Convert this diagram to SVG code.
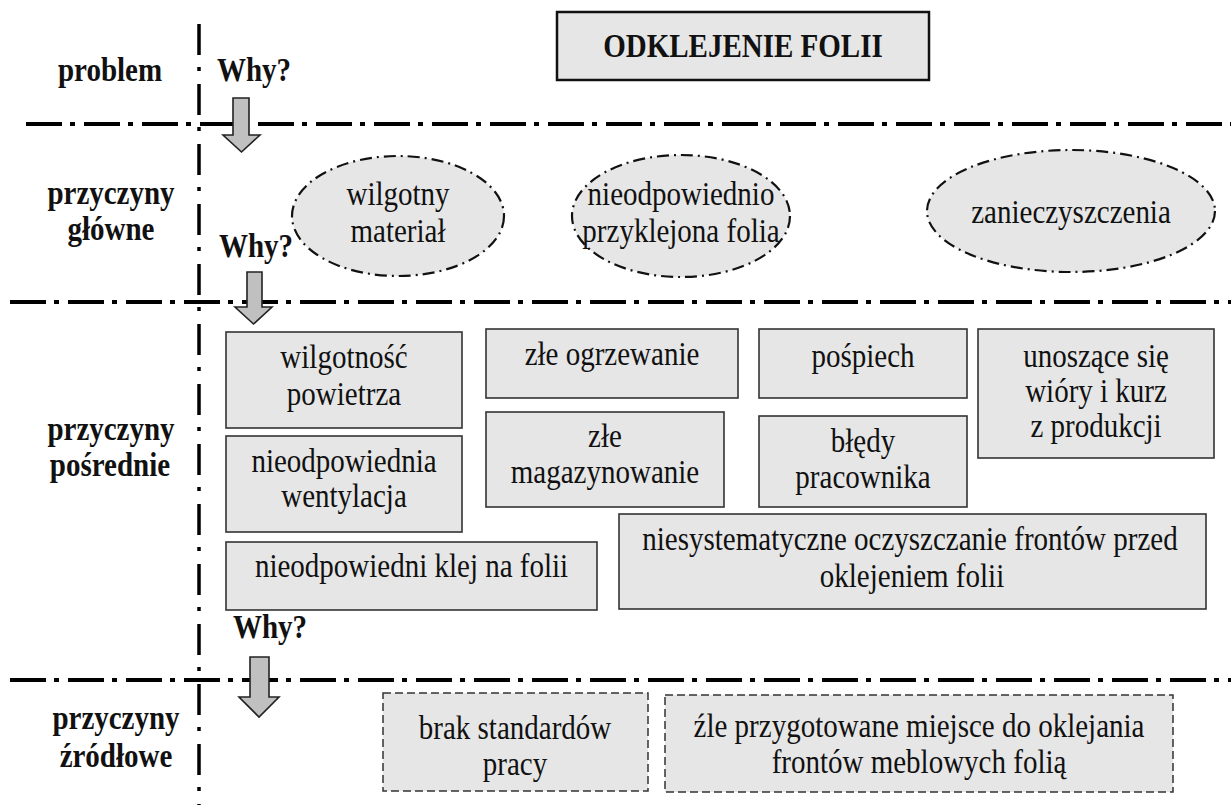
<svg xmlns="http://www.w3.org/2000/svg" width="1231" height="805" viewBox="0 0 1231 805" font-family="'Liberation Serif', 'Times New Roman', Times, serif">
<style>
  .bg{fill:#ffffff}
  .t{font-family:'Liberation Serif', 'Times New Roman', Times, serif;font-size:29px;fill:#111;text-anchor:middle}
  .b{font-weight:bold}
  .box{fill:#e6e6e6;stroke:#333;stroke-width:1.6}
  .title{fill:#e6e6e6;stroke:#111;stroke-width:2.5}
  .ell{fill:#e6e6e6;stroke:#111;stroke-width:2.2;stroke-dasharray:12 5 2 5}
  .dbox{fill:#e6e6e6;stroke:#333;stroke-width:1.5;stroke-dasharray:8 4}
  .hl{stroke:#000;stroke-width:4;stroke-dasharray:36 8 5 9;fill:none}
  .vl{stroke:#000;stroke-width:3.5;stroke-dasharray:31 12 4 13;fill:none}
  .arr{fill:#c0c0c0;stroke:#222;stroke-width:1.6;stroke-linejoin:miter}
  .why{font-family:'Liberation Serif', 'Times New Roman', Times, serif;font-size:29px;font-weight:bold;fill:#111}
</style>
<rect class="bg" x="0" y="0" width="1231" height="805"/>

<g id="grid">
  <line class="vl" x1="199" y1="24" x2="199" y2="805"/>
  <line class="hl" x1="26" y1="124" x2="1231" y2="124"/>
  <line class="hl" x1="10" y1="302" x2="1231" y2="302"/>
  <line class="hl" x1="10" y1="680" x2="1231" y2="680"/>
</g>

<g id="levels">
  <text class="t b" transform="translate(110 81) scale(1 1.13)">problem</text>
  <text class="t b" transform="translate(111 204) scale(1 1.13)">przyczyny</text>
  <text class="t b" transform="translate(111 240) scale(1 1.13)">główne</text>
  <text class="t b" transform="translate(111 440) scale(1 1.13)">przyczyny</text>
  <text class="t b" transform="translate(110 476) scale(1 1.13)">pośrednie</text>
  <text class="t b" transform="translate(116 729) scale(1 1.13)">przyczyny</text>
  <text class="t b" transform="translate(116 767) scale(1 1.13)">źródłowe</text>
</g>

<g id="title">
  <rect class="title" x="557" y="12" width="372" height="68"/>
  <text class="t b" transform="translate(743 57) scale(1 1.13)">ODKLEJENIE FOLII</text>
</g>

<g id="main1">
  <ellipse class="ell" cx="398" cy="216" rx="106" ry="60"/>
  <text class="t" transform="translate(398 205) scale(1 1.13)">wilgotny</text>
  <text class="t" transform="translate(398 242) scale(1 1.13)">materiał</text>
</g>
<g id="main2">
  <ellipse class="ell" cx="681" cy="216" rx="109" ry="61"/>
  <text class="t" transform="translate(681 205) scale(1 1.13)">nieodpowiednio</text>
  <text class="t" transform="translate(681 242) scale(1 1.13)">przyklejona folia</text>
</g>
<g id="main3">
  <ellipse class="ell" cx="1071" cy="211" rx="144" ry="61"/>
  <text class="t" transform="translate(1071 223) scale(1 1.13)">zanieczyszczenia</text>
</g>

<g id="mid1">
  <rect class="box" x="226" y="332" width="236" height="96"/>
  <text class="t" transform="translate(344 368) scale(1 1.13)">wilgotność</text>
  <text class="t" transform="translate(344 405) scale(1 1.13)">powietrza</text>
</g>
<g id="mid2">
  <rect class="box" x="226" y="436" width="236" height="96"/>
  <text class="t" transform="translate(344 472) scale(1 1.13)">nieodpowiednia</text>
  <text class="t" transform="translate(344 507) scale(1 1.13)">wentylacja</text>
</g>
<g id="mid3">
  <rect class="box" x="226" y="542" width="371" height="68"/>
  <text class="t" transform="translate(411.5 577) scale(1 1.13)">nieodpowiedni klej na folii</text>
</g>
<g id="mid4">
  <rect class="box" x="486" y="329" width="252" height="69"/>
  <text class="t" transform="translate(612 365) scale(1 1.13)">złe ogrzewanie</text>
</g>
<g id="mid5">
  <rect class="box" x="486" y="412" width="238" height="95"/>
  <text class="t" transform="translate(605 447) scale(1 1.13)">złe</text>
  <text class="t" transform="translate(605 483) scale(1 1.13)">magazynowanie</text>
</g>
<g id="mid6">
  <rect class="box" x="759" y="329" width="208" height="69"/>
  <text class="t" transform="translate(863 367) scale(1 1.13)">pośpiech</text>
</g>
<g id="mid7">
  <rect class="box" x="759" y="416" width="208" height="91"/>
  <text class="t" transform="translate(863 452) scale(1 1.13)">błędy</text>
  <text class="t" transform="translate(863 488) scale(1 1.13)">pracownika</text>
</g>
<g id="mid8">
  <rect class="box" x="978" y="329" width="236" height="129"/>
  <text class="t" transform="translate(1096 367) scale(1 1.13)">unoszące się</text>
  <text class="t" transform="translate(1096 402) scale(1 1.13)">wióry i kurz</text>
  <text class="t" transform="translate(1096 437) scale(1 1.13)">z produkcji</text>
</g>
<g id="mid9">
  <rect class="box" x="619" y="514" width="587" height="95"/>
  <text class="t" transform="translate(910 550) scale(1 1.13)">niesystematyczne oczyszczanie frontów przed</text>
  <text class="t" transform="translate(912 587) scale(1 1.13)">oklejeniem folii</text>
</g>

<g id="root1">
  <rect class="dbox" x="383" y="693" width="265" height="98"/>
  <text class="t" transform="translate(515 739) scale(1 1.13)">brak standardów</text>
  <text class="t" transform="translate(515 775) scale(1 1.13)">pracy</text>
</g>
<g id="root2">
  <rect class="dbox" x="665" y="695" width="508" height="97"/>
  <text class="t" transform="translate(919 737) scale(1 1.13)">źle przygotowane miejsce do oklejania</text>
  <text class="t" transform="translate(919 773) scale(1 1.13)">frontów meblowych folią</text>
</g>

<g id="connectors">
  <text class="why" transform="translate(217 81) scale(1 1.13)">Why?</text>
  <polygon class="arr" points="233,98 249,98 249,135 260,135 241.5,152 223,135 233,135"/>
  <text class="why" transform="translate(219 257) scale(1 1.13)">Why?</text>
  <polygon class="arr" points="247,272 262,272 262,307 272,307 253.5,324 235,307 247,307"/>
  <text class="why" transform="translate(233 638) scale(1 1.13)">Why?</text>
  <polygon class="arr" points="250,657 269,657 269,697 279,697 259,717 239,697 250,697"/>
</g>
</svg>
